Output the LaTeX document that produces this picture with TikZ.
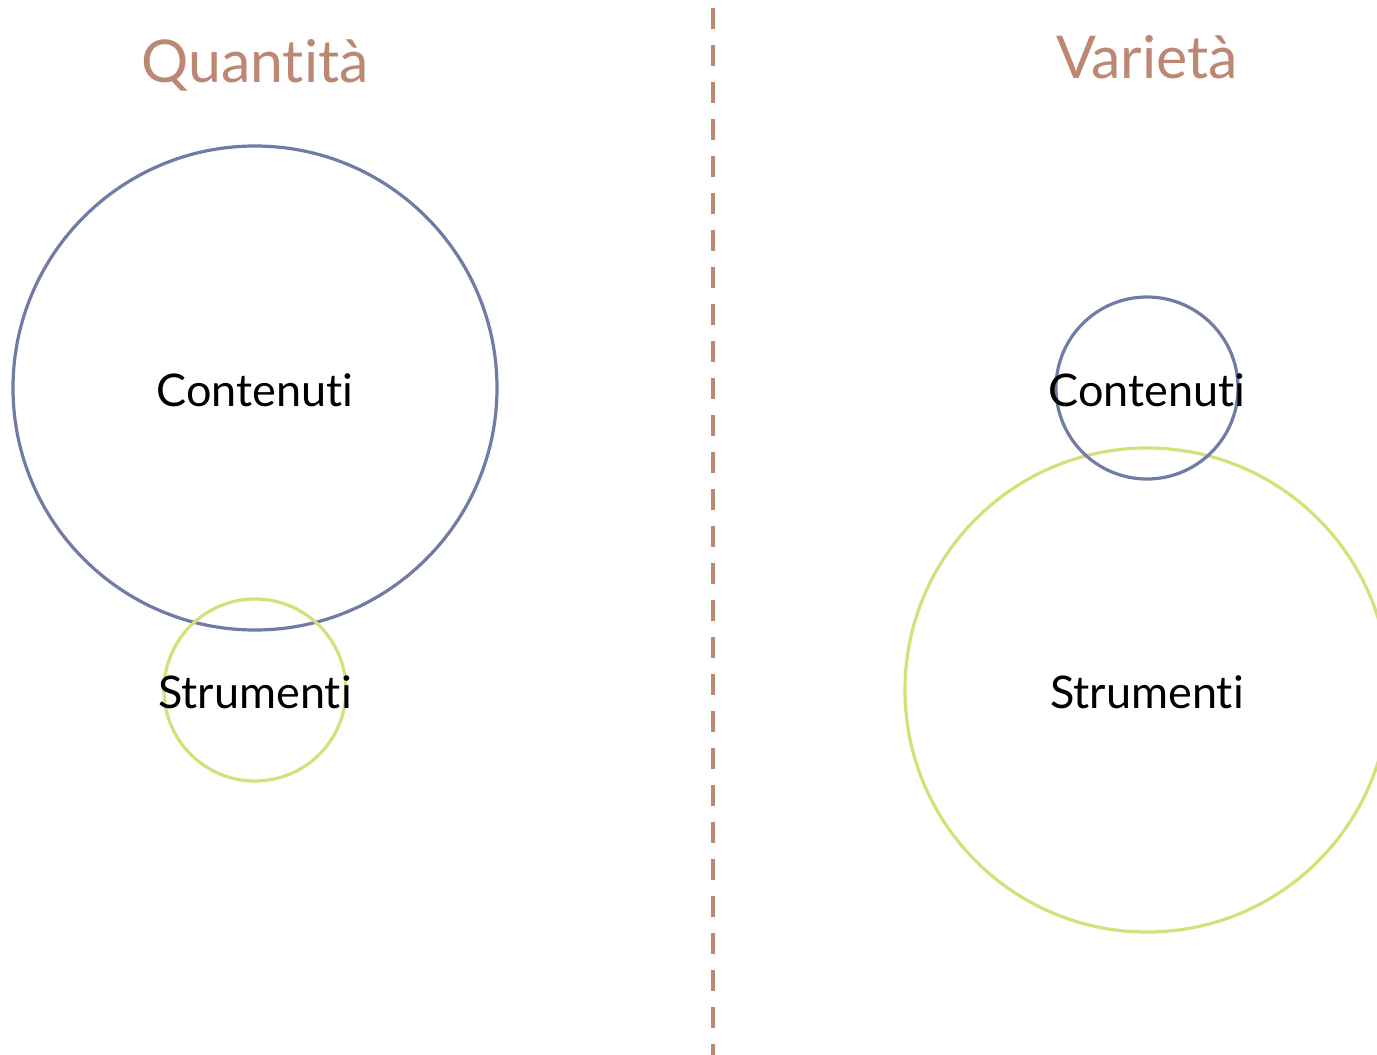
\documentclass[tikz,border=0pt]{standalone}
\usepackage{fontspec}
\setmainfont{Lato}[Ligatures={NoCommon}]
\definecolor{ttl}{RGB}{188,135,115}
\definecolor{cblue}{RGB}{112,123,166}
\definecolor{cgreen}{RGB}{214,223,122}
\begin{document}
\begin{tikzpicture}[x=1pt,y=-1pt,
  ring/.style={circle,draw,line width=3.2pt,inner sep=0pt},
  bluering/.style={ring,draw=cblue},
  greenring/.style={ring,draw=cgreen},
  lbl/.style={font=\fontsize{45}{50}\selectfont,text=black,inner sep=0pt},
  ttlstyle/.style={font=\fontsize{59}{66}\selectfont,text=ttl,inner sep=0pt,anchor=base},
  divider/.style={draw=ttl,line width=4pt,dash pattern=on 21pt off 16pt}]
\useasboundingbox (0,0) rectangle (1377,1055);
\clip (0,0) rectangle (1377,1055);
% left side
\node[bluering,minimum size=484pt] (cbigL) at (255,388) {};
\node[greenring,minimum size=182pt] (csmallL) at (255,690) {};
\node[lbl] (t1) at (255,390) {Contenuti};
\node[lbl] (t2) at (255,692) {Strumenti};
\node[ttlstyle] (q) at (255,82) {Quantità};
% right side
\node[greenring,minimum size=484pt] (cbigR) at (1147,690) {};
\node[bluering,minimum size=182pt] (csmallR) at (1147,388) {};
\node[lbl] (t3) at (1147,390) {Contenuti};
\node[lbl] (t4) at (1147,692) {Strumenti};
\node[ttlstyle] (v) at (1147,78) {Varietà};
% divider
\coordinate (dtop) at (713,8);
\coordinate (dbot) at (713,1055);
\draw[divider] (dtop) -- (dbot);
\end{tikzpicture}
\end{document}
